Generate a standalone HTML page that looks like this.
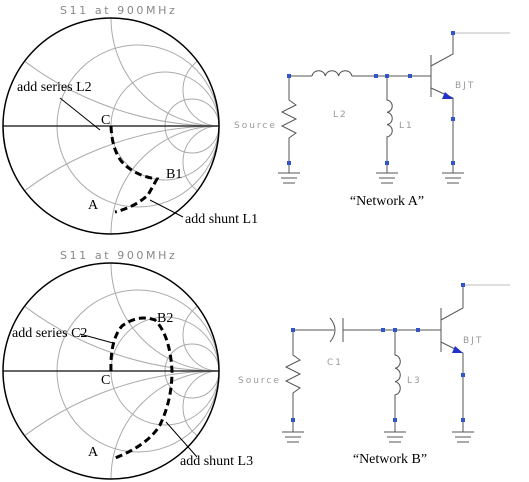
<!DOCTYPE html>
<html><head><meta charset="utf-8"><style>
html,body{margin:0;padding:0;background:#fff;overflow:hidden;width:529px;height:482px;}
svg{display:block;}
.ser{font-family:"Liberation Serif",serif;font-size:14px;fill:#000;}
.mono{font-family:"DejaVu Sans",sans-serif;font-size:9px;fill:#999;letter-spacing:2px;}
.ttl{font-family:"DejaVu Sans",sans-serif;font-size:11px;fill:#888;letter-spacing:2.6px;}
.w{stroke:#555;stroke-width:1;fill:none;}
.n{fill:#3355cc;}
</style></head><body>
<svg id="s" width="529" height="482" viewBox="0 0 529 482" xmlns="http://www.w3.org/2000/svg">
<text x="60" y="14" class="ttl">S11 at 900MHz</text>
<g id="smithA"></g>
<g id="smithB"></g>
<text x="60" y="259" class="ttl">S11 at 900MHz</text>

<path d="M111,126 Q112,150 122,162 Q135,176 157,179 L148,195 Q135,207 115,212" stroke="#000" stroke-width="3" stroke-dasharray="7,4" fill="none"/>
<text x="17" y="91" class="ser">add series L2</text>
<line x1="60" y1="98" x2="100" y2="130" stroke="#000"/>
<text x="101" y="124" class="ser">C</text>
<text x="166" y="178" class="ser">B1</text>
<text x="88" y="209" class="ser">A</text>
<text x="185" y="223" class="ser">add shunt L1</text>
<line x1="150" y1="200" x2="183" y2="217" stroke="#000"/>

<path d="M111,371 Q110,340 122,326 Q138,314 155,320 Q170,335 172,371 Q172,400 160,425 Q148,445 115,458" stroke="#000" stroke-width="3" stroke-dasharray="7,4" fill="none"/>
<text x="12" y="337" class="ser">add series C2</text>
<line x1="80" y1="334" x2="113" y2="343" stroke="#000"/>
<text x="101" y="384" class="ser">C</text>
<text x="157" y="322" class="ser">B2</text>
<text x="88" y="456" class="ser">A</text>
<text x="180" y="465" class="ser">add shunt L3</text>
<line x1="166" y1="422" x2="197" y2="457" stroke="#000"/>

<g>
<text x="234" y="128" class="mono">Source</text>
<path class="w" d="M289,76 L312,76 M312,76 a6.7,6 0 0 1 13.3,0 a6.7,6 0 0 1 13.3,0 a6.7,6 0 0 1 13.3,0 M352,76 L431,76"/>
<path class="w" d="M289,76 L289,100 L296,105 L282,112 L296,119 L282,126 L296,133 L289,138 L289,173"/>
<path class="w" d="M387,76 L387,100 a6,6.2 0 0 1 0,12.3 a6,6.2 0 0 1 0,12.3 a6,6.2 0 0 1 0,12.3 L387,173"/>
<path class="w" d="M431,55 L431,97 M431,66 L453,54 L453,33 M431,88 L453,98 L453,173"/>
<path d="M453,33 L510,33" stroke="#bbb" fill="none"/>
<path d="M445,92 L453,99 L442,99 Z" fill="#2233cc"/>
<path class="w" d="M278,173 L300,173 M281,178 L297,178 M283,183 L295,183 M376,173 L398,173 M379,178 L395,178 M381,183 L393,183 M442,173 L464,173 M445,178 L461,178 M447,183 L459,183"/>
<g class="n"><rect x="287" y="74" width="4" height="4"/><rect x="374" y="74" width="4" height="4"/><rect x="385" y="74" width="4" height="4"/><rect x="408" y="74" width="4" height="4"/><rect x="451" y="31" width="4" height="4"/><rect x="451" y="117" width="4" height="4"/><rect x="287" y="161" width="4" height="4"/><rect x="385" y="161" width="4" height="4"/><rect x="451" y="161" width="4" height="4"/></g>
<text x="333" y="117" class="mono">L2</text>
<text x="399" y="128" class="mono">L1</text>
<text x="455" y="88" class="mono">BJT</text>
<text x="387" y="205" class="ser" text-anchor="middle">“Network A”</text>
</g>

<g>
<text x="238" y="383" class="mono">Source</text>
<path class="w" d="M293,330 L334,330 M330,318 Q340,330 330,342 M343,318 L343,342 M343,330 L441,330"/>
<path class="w" d="M293,330 L293,355 L300,360 L286,367 L300,374 L286,381 L300,388 L293,393 L293,432"/>
<path class="w" d="M395,330 L395,355 a6,6.7 0 0 1 0,13.3 a6,6.7 0 0 1 0,13.3 a6,6.7 0 0 1 0,13.3 L395,432"/>
<path class="w" d="M441,308 L441,352 M441,320 L463,308 L463,285 M441,342 L463,353 L463,432"/>
<path d="M463,285 L510,285" stroke="#bbb" fill="none"/>
<path d="M455,346 L463,353 L452,353 Z" fill="#2233cc"/>
<path class="w" d="M282,432 L304,432 M285,437 L301,437 M287,442 L299,442 M384,432 L406,432 M387,437 L403,437 M389,442 L401,442 M452,432 L474,432 M455,437 L471,437 M457,442 L469,442"/>
<g class="n"><rect x="291" y="328" width="4" height="4"/><rect x="381" y="328" width="4" height="4"/><rect x="393" y="328" width="4" height="4"/><rect x="416" y="328" width="4" height="4"/><rect x="461" y="283" width="4" height="4"/><rect x="461" y="373" width="4" height="4"/><rect x="291" y="418" width="4" height="4"/><rect x="393" y="418" width="4" height="4"/><rect x="461" y="418" width="4" height="4"/></g>
<text x="327" y="365" class="mono">C1</text>
<text x="407" y="383" class="mono">L3</text>
<text x="463" y="343" class="mono">BJT</text>
<text x="390" y="463" class="ser" text-anchor="middle">“Network B”</text>
</g>
</svg>
<script>
const resistances = [1/3, 1, 3];
const reactances = [1/3, 1, 3, -1/3, -1, -3];
const NS = "http://www.w3.org/2000/svg";
function drawSmith(id, cx, cy, R) {
  const g = document.getElementById(id);
  const clipId = id + "-clip";
  const defs = document.createElementNS(NS, "defs");
  const cp = document.createElementNS(NS, "clipPath");
  cp.setAttribute("id", clipId);
  const cc = document.createElementNS(NS, "circle");
  cc.setAttribute("cx", cx); cc.setAttribute("cy", cy); cc.setAttribute("r", R);
  cp.appendChild(cc); defs.appendChild(cp); g.appendChild(defs);
  const grid = document.createElementNS(NS, "g");
  grid.setAttribute("clip-path", "url(#" + clipId + ")");
  g.appendChild(grid);
  resistances.forEach(r => {
    const c = document.createElementNS(NS, "circle");
    
    
    c.setAttribute("cx", cx + R * r / (r + 1));
    c.setAttribute("cy", cy);
    c.setAttribute("r", R / (r + 1));
    c.setAttribute("fill", "none"); c.setAttribute("stroke", "#aaa");
    grid.appendChild(c);
  });
  reactances.forEach(x => {
    const c = document.createElementNS(NS, "circle");
    
    
    c.setAttribute("cx", cx + R);
    c.setAttribute("cy", cy - R / x);
    c.setAttribute("r", Math.abs(R / x));
    c.setAttribute("fill", "none"); c.setAttribute("stroke", "#aaa");
    grid.appendChild(c);
  });
  const axis = document.createElementNS(NS, "line");
  
  
  axis.setAttribute("x1", cx - R); axis.setAttribute("x2", cx + R);
  axis.setAttribute("y1", cy); axis.setAttribute("y2", cy);
  axis.setAttribute("stroke", "#333"); axis.setAttribute("stroke-width", "1.5");
  g.appendChild(axis);
  const o = document.createElementNS(NS, "circle");
  
  
  o.setAttribute("cx", cx); o.setAttribute("cy", cy); o.setAttribute("r", R);
  o.setAttribute("fill", "none"); o.setAttribute("stroke", "#000"); o.setAttribute("stroke-width", "1.5");
  g.appendChild(o);
}
drawSmith("smithA", 111, 126, 108);
drawSmith("smithB", 111, 371, 108);
</script>
</body></html>
